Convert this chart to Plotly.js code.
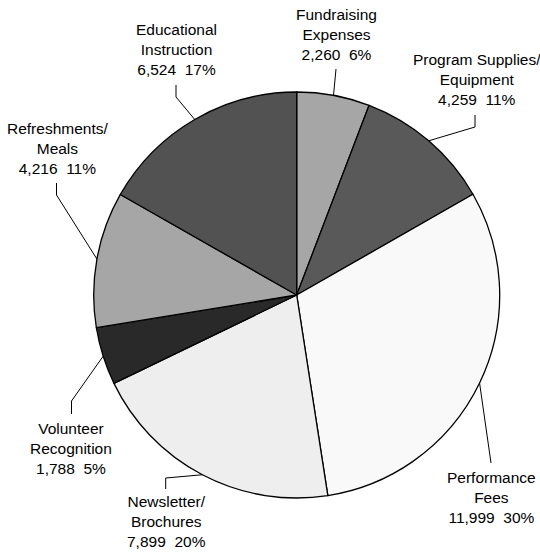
<!DOCTYPE html>
<html>
<head>
<meta charset="utf-8">
<script src="https://cdn.plot.ly/plotly-3.0.1.min.js"></script>
<style>html,body{margin:0;padding:0;background:#fff;}#chart{width:540px;height:552px;}</style>
</head>
<body>
<div id="chart"></div>
<script>
// Data (clockwise from 12 o'clock)
const categories = ["Fundraising<br>Expenses", "Program Supplies/<br>Equipment", "Performance<br>Fees", "Newsletter/<br>Brochures", "Volunteer<br>Recognition", "Refreshments/<br>Meals", "Educational<br>Instruction"];
const values = [2260, 4259, 11999, 7899, 1788, 4216, 6524];
const valueLabels = ["2,260", "4,259", "11,999", "7,899", "1,788", "4,216", "6,524"];
const pctLabels = ["6%", "11%", "30%", "20%", "5%", "11%", "17%"];
const colors = ["#a6a6a6", "#595959", "#f9f9f9", "#eeeeee", "#292929", "#a6a6a6", "#525252"];

// Layout constants (pixels)
const W = 540, H = 552;
const cx = 296.7, cy = 295, R = 203;
// label text centre, leader start, leader elbow
const labelPos = [
  {x: 336, y: 35, s: [336, 69], e: [336, 69]},
  {x: 477, y: 80, s: [475, 115], e: [475, 127]},
  {x: 491, y: 497, s: [491, 463], e: [491, 463]},
  {x: 166, y: 521, s: [165.7, 489], e: [165.7, 478]},
  {x: 71, y: 448, s: [71.5, 414], e: [71.5, 401]},
  {x: 57, y: 148, s: [56.5, 183], e: [56.5, 195]},
  {x: 176, y: 50, s: [176, 85], e: [176, 97]}
];

const px = x => x / W;
const py = y => 1 - y / H;

const total = values.reduce((a, b) => a + b, 0);
let cum = 0;
const annotations = [];
const shapes = [];
values.forEach((v, i) => {
  const mid = (cum + v / 2) / total;
  cum += v;
  const th = 2 * Math.PI * mid;
  const ex = cx + R * Math.sin(th);
  const ey = cy - R * Math.cos(th);
  const lp = labelPos[i];
  annotations.push({
    xref: 'paper', yref: 'paper', x: px(lp.x), y: py(lp.y),
    xanchor: 'center', yanchor: 'middle', showarrow: false, align: 'center',
    text: categories[i] + '<br>' + valueLabels[i] + '\u00a0\u00a0' + pctLabels[i],
    font: {family: 'Liberation Sans, Arial, sans-serif', size: 15.5, color: '#000'}
  });
  shapes.push({
    type: 'path', xref: 'paper', yref: 'paper',
    path: 'M ' + px(lp.s[0]) + ' ' + py(lp.s[1]) + ' L ' + px(lp.e[0]) + ' ' + py(lp.e[1]) + ' L ' + px(ex) + ' ' + py(ey),
    line: {color: '#000', width: 1}
  });
});

const trace = {
  type: 'pie',
  values: values,
  labels: categories,
  sort: false,
  direction: 'clockwise',
  rotation: 0,
  textinfo: 'none',
  hoverinfo: 'none',
  marker: {colors: colors, line: {color: '#000', width: 1.3}},
  domain: {x: [px(cx - R), px(cx + R)], y: [py(cy + R), py(cy - R)]},
  showlegend: false
};

const layout = {
  width: W, height: H,
  margin: {l: 0, r: 0, t: 0, b: 0},
  paper_bgcolor: '#fff',
  showlegend: false,
  annotations: annotations,
  shapes: shapes
};

Plotly.newPlot('chart', [trace], layout, {displayModeBar: false, staticPlot: true});
</script>
</body>
</html>
